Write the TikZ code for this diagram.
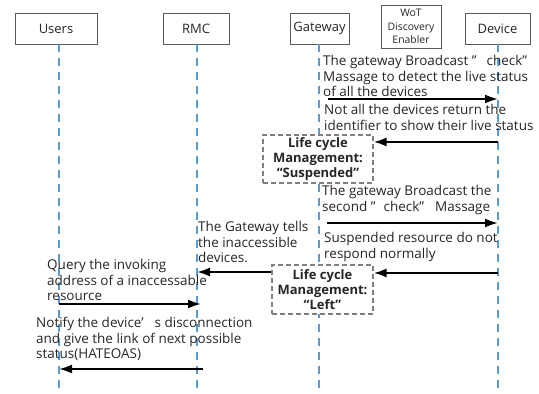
\documentclass[tikz,border=0pt]{standalone}
\usepackage{fontspec}
\setmainfont{Open Sans}
\usetikzlibrary{arrows.meta}
\definecolor{lifeblue}{HTML}{5B9BD5}
\definecolor{ink}{HTML}{262626}
\begin{document}
\begin{tikzpicture}[x=1pt,y=-1pt,
  hdr/.style={draw=black!65, line width=0.9pt, inner sep=0pt, fill=white,
    font=\fontsize{13}{15}\selectfont, text=ink},
  life/.style={draw=lifeblue, line width=1.4pt, dash pattern=on 8pt off 6pt},
  msg/.style={line width=2pt, -{Latex[length=13pt,width=9pt]}},
  txt/.style={anchor=north west, inner sep=0pt, align=left,
    font=\fontsize{13.5}{15.5}\selectfont, text=ink},
  lcm/.style={draw=black!50, dash pattern=on 5pt off 3pt, line width=1.2pt,
    fill=white, font=\bfseries\fontsize{13}{15}\selectfont, text=ink,
    align=center, inner sep=0pt}
]
\useasboundingbox[fill=white] (0,0) rectangle (539,394);

% header boxes
\node[hdr, minimum width=82pt, minimum height=31pt] (users) at (56,28.5) {Users};
\node[hdr, minimum width=66pt, minimum height=31pt] (rmc) at (196,28.5) {RMC};
\node[hdr, minimum width=59pt, minimum height=31pt] (gw) at (319.5,28.5) {Gateway};
\node[hdr, minimum width=60pt, minimum height=43pt, align=center,
  font=\fontsize{10.4}{13.8}\selectfont] (wot) at (411,26.5) {WoT\\Discovery\\Enabler};
\node[hdr, minimum width=65pt, minimum height=31pt] (dev) at (497.5,28.5) {Device};

% lifelines
\coordinate (uT) at (59,44);  \coordinate (uB) at (59,394);
\coordinate (rT) at (197,44); \coordinate (rB) at (197,394);
\coordinate (gT) at (319,44); \coordinate (gB) at (319,394);
\coordinate (dT) at (498,44); \coordinate (dB) at (498,394);
\draw[life] (uT) -- (uB);
\draw[life] (rT) -- (rB);
\draw[life] (gT) -- (gB);
\draw[life] (dT) -- (dB);

% life cycle boxes
\node[lcm, minimum width=110pt, minimum height=48pt] (sus) at (318,159)
  {Life cycle\\Management:\\“Suspended”};
\node[lcm, minimum width=101pt, minimum height=49pt] (left) at (322.5,289.5)
  {Life cycle\\Management:\\“Left”};

% message texts
\node[txt] (t1) at (323,54.5) {\strut The gateway Broadcast ”\hspace{10pt}check"\\Massage to detect the live status\\of all the devices};
\node[txt] (t2) at (324,103.5) {\strut Not all the devices return the\\identifier to show their live status};
\node[txt] (t3) at (322,184.5) {\strut The gateway Broadcast the\\second ”\hspace{8pt}check”\hspace{11pt}Massage};
\node[txt] (t4) at (324,231.5) {\strut Suspended resource do not\\respond normally};
\node[txt] (t5) at (198,220.5) {\strut The Gateway tells\\the inaccessible\\devices.};
\node[txt] (t6) at (47,258.5) {\strut Query the invoking\\address of a inaccessable\\resource};
\node[txt] (t7) at (36,316.5) {\strut Notify the device’\hspace{11pt}s disconnection\\and give the link of next possible\\status(HATEOAS)};

% arrow end points
\coordinate (a1s) at (328,99);   \coordinate (a1e) at (498,99);
\coordinate (a2s) at (498,142);  \coordinate (a2e) at (sus.east |- a2s);
\coordinate (a3s) at (327,223);  \coordinate (a3e) at (498,223);
\coordinate (a4s) at (498,273);  \coordinate (a4e) at (left.east |- a4s);
\coordinate (a5s) at (left.west |- 0,272); \coordinate (a5e) at (197,272);
\coordinate (a6s) at (59,304);   \coordinate (a6e) at (201,304);
\coordinate (a7s) at (203,369);  \coordinate (a7e) at (59,369);

\draw[msg] (a1s) -- (a1e);
\draw[msg] (a2s) -- (a2e);
\draw[msg] (a3s) -- (a3e);
\draw[msg] (a4s) -- (a4e);
\draw[msg] (a5s) -- (a5e);
\draw[msg] (a6s) -- (a6e);
\draw[msg] (a7s) -- (a7e);
\end{tikzpicture}
\end{document}
